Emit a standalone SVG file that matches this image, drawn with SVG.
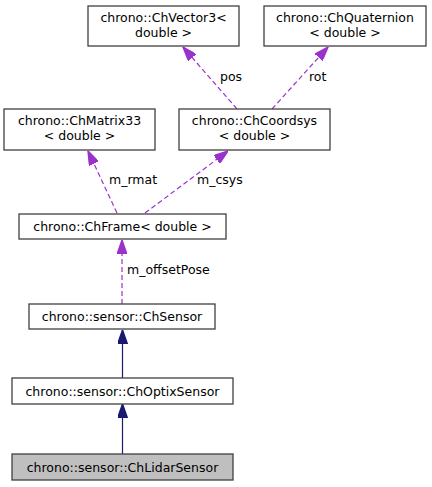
<svg xmlns="http://www.w3.org/2000/svg" width="432" height="487" viewBox="0 0 432 487">
<defs>
<style>
.box{fill:#fff;stroke:#404040;stroke-width:1.3}
.sel{fill:#bfbfbf;stroke:#404040;stroke-width:1.3}
text{font-family:"DejaVu Sans","Noto Sans",sans-serif;font-size:12.5px;fill:#000}
.c{text-anchor:middle}
.inh{stroke:#191970;stroke-width:1.2;fill:none}
.use{stroke:#9a32cd;stroke-width:1.2;fill:none;stroke-dasharray:5,3}
</style>
<marker id="ah-inh" viewBox="0 0 10 7" refX="10" refY="3.5" markerUnits="userSpaceOnUse" markerWidth="14" markerHeight="10" orient="auto">
<path d="M0,0 L10,3.5 L0,7 z" fill="#191970" stroke="#191970"/>
</marker>
<marker id="ah-use" viewBox="0 0 10 7" refX="10" refY="3.5" markerUnits="userSpaceOnUse" markerWidth="14" markerHeight="10" orient="auto">
<path d="M0,0 L10,3.5 L0,7 z" fill="#9a32cd" stroke="#9a32cd"/>
</marker>
</defs>
<rect width="432" height="487" fill="#fff"/>
<g id="edges">
<line class="inh" x1="122.5" y1="454" x2="122.5" y2="404" marker-end="url(#ah-inh)"/>
<line class="inh" x1="122.5" y1="378" x2="122.5" y2="330" marker-end="url(#ah-inh)"/>
<line class="use" x1="122" y1="304" x2="122" y2="240" marker-end="url(#ah-use)"/>
<text x="127" y="274">m_offsetPose</text>
<line class="use" x1="117" y1="213" x2="88" y2="151" marker-end="url(#ah-use)"/>
<text x="109" y="184">m_rmat</text>
<line class="use" x1="145" y1="213" x2="228" y2="151" marker-end="url(#ah-use)"/>
<text x="197" y="184">m_csys</text>
<line class="use" x1="237" y1="109" x2="183" y2="47" marker-end="url(#ah-use)"/>
<text x="220" y="81">pos</text>
<line class="use" x1="272" y1="109" x2="328" y2="47" marker-end="url(#ah-use)"/>
<text x="309" y="81">rot</text>
</g>
<g id="node-vector3">
<rect class="box" x="88" y="6" width="151" height="40"/>
<text class="c" x="163.5" y="22">chrono::ChVector3&lt;</text>
<text class="c" x="163.5" y="37">double &gt;</text>
</g>
<g id="node-quaternion">
<rect class="box" x="264" y="6" width="162" height="40"/>
<text class="c" x="345" y="22">chrono::ChQuaternion</text>
<text class="c" x="345" y="37">&lt; double &gt;</text>
</g>
<g id="node-matrix33">
<rect class="box" x="4" y="109" width="151" height="41"/>
<text class="c" x="79.5" y="125">chrono::ChMatrix33</text>
<text class="c" x="79.5" y="140">&lt; double &gt;</text>
</g>
<g id="node-coordsys">
<rect class="box" x="179" y="109" width="151" height="41"/>
<text class="c" x="254.5" y="125">chrono::ChCoordsys</text>
<text class="c" x="254.5" y="140">&lt; double &gt;</text>
</g>
<g id="node-frame">
<rect class="box" x="19" y="214" width="207" height="25"/>
<text class="c" x="122.5" y="230.5">chrono::ChFrame&lt; double &gt;</text>
</g>
<g id="node-sensor">
<rect class="box" x="29" y="304" width="186" height="25"/>
<text class="c" x="122" y="320.5">chrono::sensor::ChSensor</text>
</g>
<g id="node-optix">
<rect class="box" x="12" y="378" width="221" height="26"/>
<text class="c" x="122.5" y="395.5">chrono::sensor::ChOptixSensor</text>
</g>
<g id="node-lidar">
<rect class="sel" x="12" y="454" width="221" height="26"/>
<text class="c" x="122.5" y="471.5">chrono::sensor::ChLidarSensor</text>
</g>
</svg>
